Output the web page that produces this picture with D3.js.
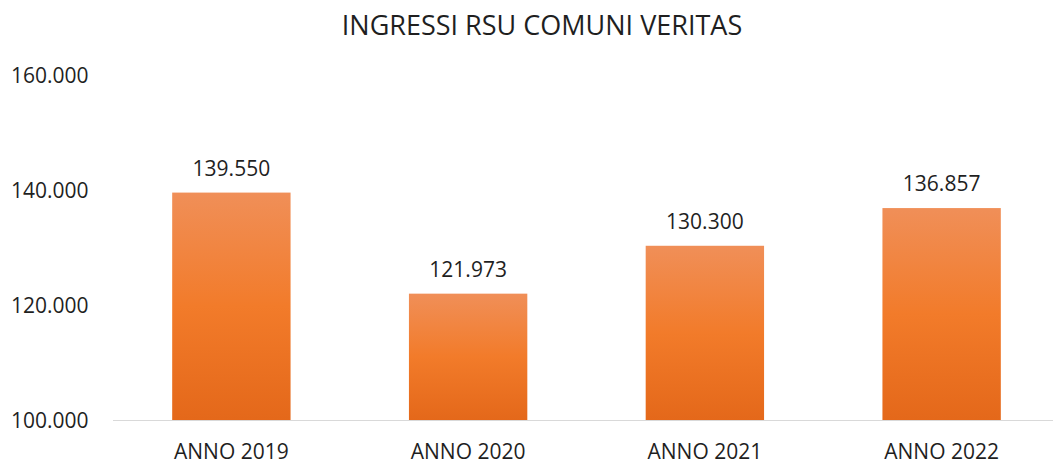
<!DOCTYPE html>
<html>
<head>
<meta charset="utf-8">
<script src="https://cdn.jsdelivr.net/npm/d3@7"></script>
<style>
  body { margin: 0; background: #fff; }
  text { font-family: "Open Sans", "Liberation Sans", sans-serif; fill: #1f1f1f; }
</style>
</head>
<body>
<div id="chart"></div>
<script>
// data
var categories = ["ANNO 2019", "ANNO 2020", "ANNO 2021", "ANNO 2022"];
var values = [139550, 121973, 130300, 136857];
var yTicks = [100000, 120000, 140000, 160000];

var W = 1053, H = 466;
var margin = {top: 75, right: -7, bottom: 46, left: 113};

var svg = d3.select("#chart").append("svg")
  .attr("width", W)
  .attr("height", H);

// gradient for bars
var defs = svg.append("defs");
var grad = defs.append("linearGradient")
  .attr("id", "barGrad")
  .attr("x1", 0).attr("y1", 0).attr("x2", 0).attr("y2", 1);
grad.append("stop").attr("offset", "0%").attr("stop-color", "#F08F58");
grad.append("stop").attr("offset", "50%").attr("stop-color", "#F27B2A");
grad.append("stop").attr("offset", "100%").attr("stop-color", "#E4681A");

var fmt = function(v) { return d3.format(",")(v).replace(/,/g, "."); };

var x = d3.scaleBand()
  .domain(categories)
  .range([margin.left, W - margin.right])
  .paddingInner(0.5)
  .paddingOuter(0.25);

var y = d3.scaleLinear()
  .domain([100000, 160000])
  .range([H - margin.bottom, margin.top]);

// title
svg.append("text")
  .attr("x", 542)
  .attr("y", 35)
  .attr("text-anchor", "middle")
  .style("font-size", "27px")
  .text("INGRESSI RSU COMUNI VERITAS");

// y tick labels
svg.append("g")
  .selectAll("text")
  .data(yTicks)
  .enter().append("text")
  .attr("x", 11)
  .attr("y", function(d) { return y(d) + 8; })
  .style("font-size", "21px")
  .text(fmt);

// bars
svg.append("g")
  .selectAll("rect")
  .data(values)
  .enter().append("rect")
  .attr("x", function(d, i) { return x(categories[i]); })
  .attr("y", function(d) { return y(d); })
  .attr("width", x.bandwidth())
  .attr("height", function(d) { return y(100000) - y(d); })
  .attr("fill", "url(#barGrad)");

// baseline
svg.append("line")
  .attr("x1", margin.left)
  .attr("x2", W)
  .attr("y1", y(100000) + 0.5)
  .attr("y2", y(100000) + 0.5)
  .attr("stroke", "#D9D9D9")
  .attr("stroke-width", 1);

// value labels
svg.append("g")
  .selectAll("text")
  .data(values)
  .enter().append("text")
  .attr("x", function(d, i) { return x(categories[i]) + x.bandwidth() / 2; })
  .attr("y", function(d) { return y(d) - 17; })
  .attr("text-anchor", "middle")
  .style("font-size", "21px")
  .text(fmt);

// category labels
svg.append("g")
  .selectAll("text")
  .data(categories)
  .enter().append("text")
  .attr("x", function(d) { return x(d) + x.bandwidth() / 2; })
  .attr("y", y(100000) + 39)
  .attr("text-anchor", "middle")
  .style("font-size", "21px")
  .text(function(d) { return d; });
</script>
</body>
</html>
